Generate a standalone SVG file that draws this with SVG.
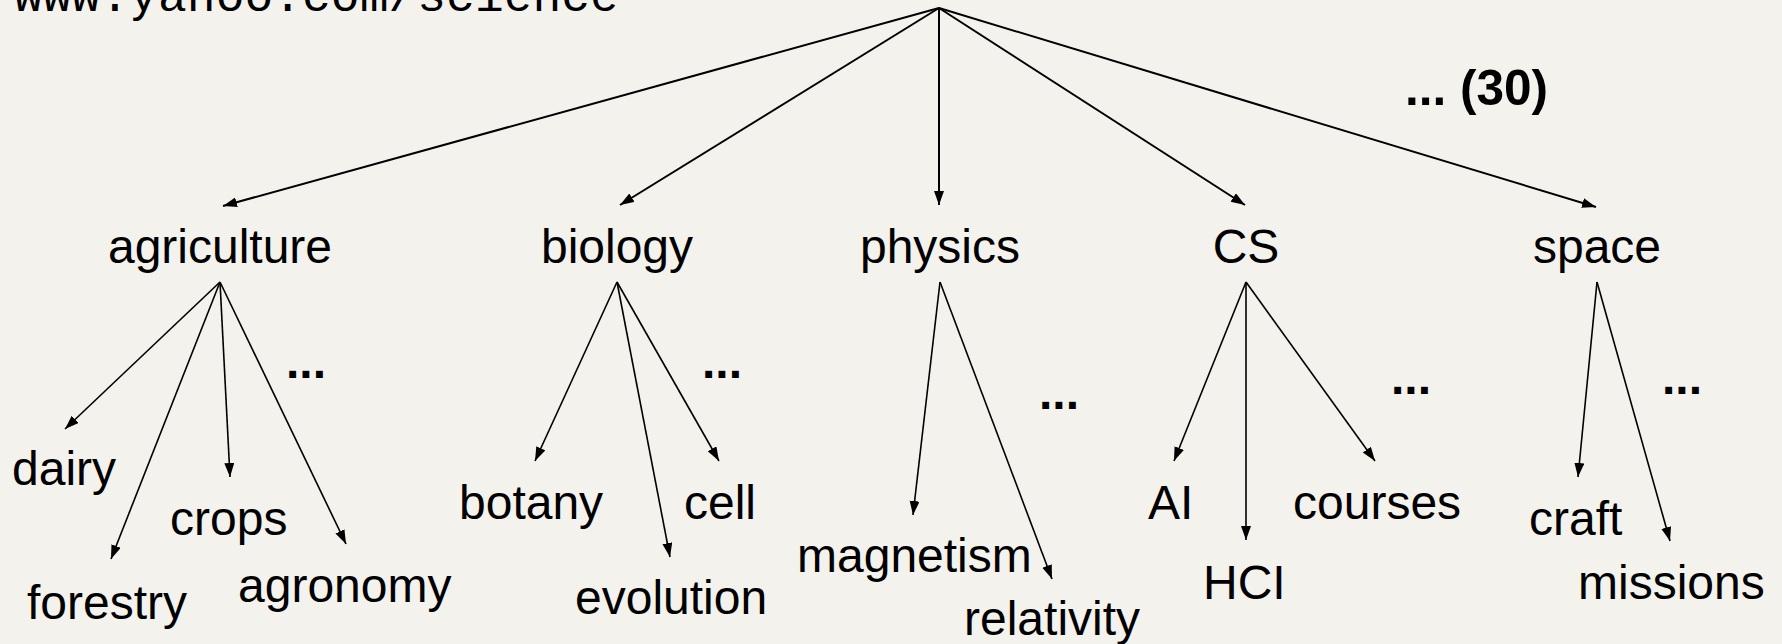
<svg xmlns="http://www.w3.org/2000/svg" width="1782" height="644" viewBox="0 0 1782 644">
<defs>
<marker id="ah" markerUnits="userSpaceOnUse" markerWidth="15" markerHeight="11" refX="14" refY="5" orient="auto">
<path d="M0,0 L14,5 L0,10 z" fill="#000"/>
</marker>
<style>
.lbl{font-family:"Liberation Sans",Arial,sans-serif;font-size:48px;fill:#000}
.dots{font-family:"Liberation Sans",Arial,sans-serif;font-size:48px;font-weight:bold;fill:#000}
.url{font-family:"Liberation Mono","Courier New",monospace;font-size:48px;fill:#000}
.c1{stroke:#000;stroke-width:2;fill:none;marker-end:url(#ah)}
.c2{stroke:#000;stroke-width:1.6;fill:none;marker-end:url(#ah)}
</style>
</defs>
<rect width="1782" height="644" fill="#f3f2ec"/>
<g id="root"><text class="url" x="14" y="11">www.yahoo.com/science</text></g>
<g id="connectors">
<line class="c1" x1="939" y1="8" x2="223" y2="206"/>
<line class="c1" x1="939" y1="8" x2="620" y2="205"/>
<line class="c1" x1="939" y1="8" x2="939" y2="205"/>
<line class="c1" x1="939" y1="8" x2="1245" y2="205"/>
<line class="c1" x1="939" y1="8" x2="1596" y2="207"/>
<line class="c2" x1="220" y1="282" x2="65" y2="429"/>
<line class="c2" x1="220" y1="282" x2="111" y2="559"/>
<line class="c2" x1="220" y1="282" x2="230" y2="477"/>
<line class="c2" x1="220" y1="282" x2="346" y2="544"/>
<line class="c2" x1="617" y1="282" x2="535" y2="461"/>
<line class="c2" x1="617" y1="282" x2="670" y2="557"/>
<line class="c2" x1="617" y1="282" x2="719" y2="461"/>
<line class="c2" x1="940" y1="282" x2="913" y2="515"/>
<line class="c2" x1="940" y1="282" x2="1052" y2="579"/>
<line class="c2" x1="1246" y1="282" x2="1174" y2="461"/>
<line class="c2" x1="1246" y1="282" x2="1246" y2="540"/>
<line class="c2" x1="1246" y1="282" x2="1375" y2="461"/>
<line class="c2" x1="1597" y1="282" x2="1578" y2="477"/>
<line class="c2" x1="1597" y1="282" x2="1670" y2="541"/>
</g>
<g id="more-top"><text class="dots" x="1405" y="105" style="font-size:49.5px">... (30)</text></g>
<g id="agriculture"><text class="lbl" x="220" y="263" text-anchor="middle">agriculture</text></g>
<g id="biology"><text class="lbl" x="617" y="263" text-anchor="middle">biology</text></g>
<g id="physics"><text class="lbl" x="940" y="263" text-anchor="middle">physics</text></g>
<g id="cs"><text class="lbl" x="1246" y="263" text-anchor="middle">CS</text></g>
<g id="space"><text class="lbl" x="1597" y="263" text-anchor="middle">space</text></g>
<g id="dairy"><text class="lbl" x="12" y="485">dairy</text></g>
<g id="forestry"><text class="lbl" x="27" y="619">forestry</text></g>
<g id="crops"><text class="lbl" x="170" y="535">crops</text></g>
<g id="agronomy"><text class="lbl" x="238" y="602">agronomy</text></g>
<g id="agr-more"><text class="dots" x="286" y="378">...</text></g>
<g id="botany"><text class="lbl" x="459" y="519">botany</text></g>
<g id="evolution"><text class="lbl" x="575" y="614">evolution</text></g>
<g id="cell"><text class="lbl" x="684" y="519">cell</text></g>
<g id="bio-more"><text class="dots" x="702" y="378">...</text></g>
<g id="magnetism"><text class="lbl" x="797" y="572">magnetism</text></g>
<g id="relativity"><text class="lbl" x="964" y="635">relativity</text></g>
<g id="phys-more"><text class="dots" x="1039" y="409">...</text></g>
<g id="ai"><text class="lbl" x="1148" y="519">AI</text></g>
<g id="hci"><text class="lbl" x="1203" y="599">HCI</text></g>
<g id="courses"><text class="lbl" x="1293" y="519">courses</text></g>
<g id="cs-more"><text class="dots" x="1391" y="394">...</text></g>
<g id="craft"><text class="lbl" x="1529" y="535">craft</text></g>
<g id="missions"><text class="lbl" x="1578" y="599">missions</text></g>
<g id="space-more"><text class="dots" x="1662" y="394">...</text></g>
</svg>
